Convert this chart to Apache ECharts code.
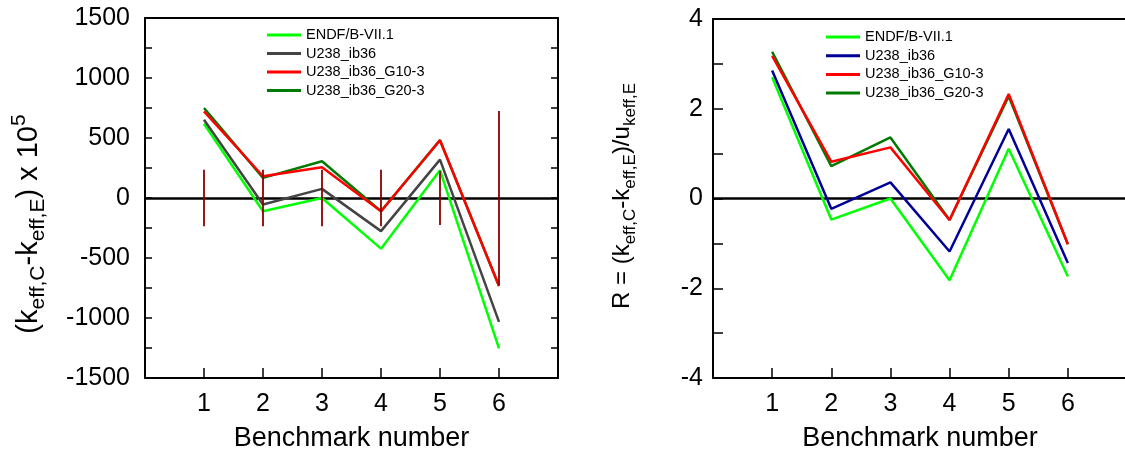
<!DOCTYPE html>
<html>
<head>
<meta charset="utf-8">
<script src="https://cdn.jsdelivr.net/npm/echarts/dist/echarts.min.js"></script>
<style>
html,body{margin:0;padding:0;background:#fff;overflow:hidden;width:1125px;height:457px;}
#left{position:absolute;left:0;top:0;width:565px;height:457px;}
#right{position:absolute;left:565px;top:0;width:580px;height:457px;}
</style>
</head>
<body>
<div id="left"></div>
<div id="right"></div>
<script>
// ---- data ----
const benchmarks = [1, 2, 3, 4, 5, 6];
const seriesNames = ['ENDF/B-VII.1', 'U238_ib36', 'U238_ib36_G10-3', 'U238_ib36_G20-3'];

// left panel: (k_eff,C - k_eff,E) x 1e5
const diffENDF = [619, -110, 0, -422, 231, -1254];
const diffIb36 = [652, -54, 76, -276, 320, -1032];
const diffG10 = [722, 181, 256, -110, 481, -733];
const diffG20 = [750, 168, 306, -110, 482, -733];
const uncertainty = [235, 235, 235, 235, 225, 725];

// right panel: R = (k_eff,C - k_eff,E)/u
const rENDF = [2.70, -0.47, 0.00, -1.82, 1.11, -1.74];
const rIb36 = [2.85, -0.23, 0.36, -1.18, 1.55, -1.44];
const rG10 = [3.18, 0.82, 1.14, -0.48, 2.33, -1.02];
const rG20 = [3.27, 0.72, 1.36, -0.48, 2.28, -1.02];

const leftTickLabels = [-1500, -1000, -500, 0, 500, 1000, 1500];
const rightTickLabels = [-4, -2, 0, 2, 4];
const xTickLabels = [1, 2, 3, 4, 5, 6];

// ---- styling ----
const FONT = "'Liberation Sans', Arial, Helvetica, sans-serif";
const colENDF = '#00ff00';
const colG10 = '#ff0000';
const colG20 = '#007a00';

function pts(vals) { return benchmarks.map((b, i) => [b, vals[i]]); }

function lineSeries(name, vals, color, z, extra) {
  return Object.assign({
    name: name, type: 'line', data: pts(vals), color: color,
    showSymbol: false, symbol: 'none', z: z, silent: true,
    lineStyle: { color: color, width: 2.5 }
  }, extra || {});
}

function buildOption(cfg) {
  const xAxes = [
    {
      type: 'value', min: 0, max: 7, interval: 1, position: 'bottom', gridIndex: 0,
      axisLine: { show: true, onZero: false, lineStyle: { color: '#000', width: 2 } },
      axisTick: { show: true, inside: true, length: 10, lineStyle: { color: '#000', width: 1.5 } },
      axisLabel: { margin: 14, fontSize: 25, color: '#000', fontFamily: FONT,
        formatter: v => xTickLabels.indexOf(v) >= 0 ? String(v) : '' },
      splitLine: { show: false },
      name: 'Benchmark number', nameLocation: 'middle', nameGap: 47,
      nameTextStyle: { fontSize: 27, color: '#000', fontFamily: FONT }
    },
    {
      type: 'value', min: 0, max: 7, interval: 1, position: 'top', gridIndex: 0,
      axisLine: { show: true, onZero: false, lineStyle: { color: '#000', width: 2 } },
      axisTick: { show: false }, axisLabel: { show: false }, splitLine: { show: false }
    }
  ];
  const yBase = {
    type: 'value', min: cfg.ymin, max: cfg.ymax, interval: cfg.yint, gridIndex: 0,
    axisLine: { show: true, onZero: false, lineStyle: { color: '#000', width: 2 } },
    axisTick: { show: true, inside: true, length: cfg.ytick, lineStyle: { color: '#000', width: 1.5 } },
    splitLine: { show: false }
  };
  const yAxes = [
    Object.assign({}, yBase, {
      position: 'left',
      axisLabel: { margin: cfg.ymargin, fontSize: 25, color: '#000', fontFamily: FONT,
        formatter: v => cfg.ylabels.indexOf(v) >= 0 ? String(v) : '' }
    })
  ];
  if (cfg.mirror) {
    yAxes.push(Object.assign({}, yBase, { position: 'right', axisLabel: { show: false } }));
  }
  const series = [
    lineSeries(seriesNames[0], cfg.vals[0], colENDF, 3, {
      markLine: {
        silent: true, symbol: 'none', label: { show: false },
        lineStyle: { color: '#000', width: 2.5, type: 'solid' },
        data: [{ yAxis: 0 }], z: 2
      }
    }),
    lineSeries(seriesNames[1], cfg.vals[1], cfg.col1, 4),
    lineSeries(seriesNames[3], cfg.vals[3], colG20, 5),
    lineSeries(seriesNames[2], cfg.vals[2], colG10, 6)
  ];
  if (cfg.unc) {
    series.push({
      type: 'custom', name: 'uncertainty', silent: true, z: 7,
      data: benchmarks.map((b, i) => [b, cfg.unc[i]]),
      encode: { x: 0, y: 1 },
      renderItem: function (params, api) {
        const x = api.value(0), u = api.value(1);
        const p1 = api.coord([x, u]);
        const p2 = api.coord([x, -u]);
        return {
          type: 'line',
          shape: { x1: p1[0], y1: p1[1], x2: p2[0], y2: p2[1] },
          style: { stroke: '#8b0000', lineWidth: 1.8 }
        };
      }
    });
  }
  const tf = cfg.titleFont;
  return {
    animation: false,
    backgroundColor: '#fff',
    grid: { left: cfg.grid[0], top: cfg.grid[1], width: cfg.grid[2], height: cfg.grid[3], containLabel: false },
    xAxis: xAxes,
    yAxis: yAxes,
    legend: {
      data: seriesNames, orient: 'vertical', left: cfg.legend[0], top: cfg.legend[1],
      padding: 0, itemWidth: 34, itemHeight: 3, itemGap: cfg.legend[2], icon: 'rect',
      selectedMode: false,
      textStyle: { fontSize: 14.5, lineHeight: 15, color: '#000', fontFamily: FONT }
    },
    graphic: [{
      type: 'text', x: cfg.title[0], y: cfg.title[1], rotation: Math.PI / 2, silent: true,
      style: {
        text: cfg.title[2], align: 'center', verticalAlign: 'middle',
        fill: '#000', font: tf[0] + 'px ' + FONT,
        rich: {
          m: { fontSize: tf[0], lineHeight: tf[2], fontFamily: FONT, fill: '#000', verticalAlign: 'middle' },
          s: { fontSize: tf[1], lineHeight: tf[1], fontFamily: FONT, fill: '#000', verticalAlign: 'bottom' },
          p: { fontSize: tf[1], lineHeight: tf[1], fontFamily: FONT, fill: '#000', verticalAlign: 'top' }
        }
      }
    }],
    series: series
  };
}

const leftChart = echarts.init(document.getElementById('left'), null, { renderer: 'canvas' });
leftChart.setOption(buildOption({
  grid: [145, 18, 413, 361],
  ymin: -1500, ymax: 1500, yint: 250, ytick: 7, ymargin: 15,
  ylabels: leftTickLabels,
  vals: [diffENDF, diffIb36, diffG10, diffG20],
  col1: '#444444',
  unc: uncertainty,
  mirror: true,
  legend: [267, 27.5, 3.5],
  titleFont: [29, 21, 40],
  title: [29, 224, '{m|(k}{s|eff,C}{m|-k}{s|eff,E}{m|) x 10}{p|5}']
}));

const rightChart = echarts.init(document.getElementById('right'), null, { renderer: 'canvas' });
rightChart.setOption(buildOption({
  grid: [148, 19, 414, 360],
  ymin: -4, ymax: 4, yint: 1, ytick: 10, ymargin: 10,
  ylabels: rightTickLabels,
  vals: [rENDF, rIb36, rG10, rG20],
  col1: '#000099',
  unc: null,
  mirror: false,
  legend: [261, 29.5, 3.7],
  titleFont: [24, 17, 34],
  title: [57, 196, '{m|R = (k}{s|eff,C}{m|-k}{s|eff,E}{m|)/u}{s|keff,E}']
}));
</script>
</body>
</html>
